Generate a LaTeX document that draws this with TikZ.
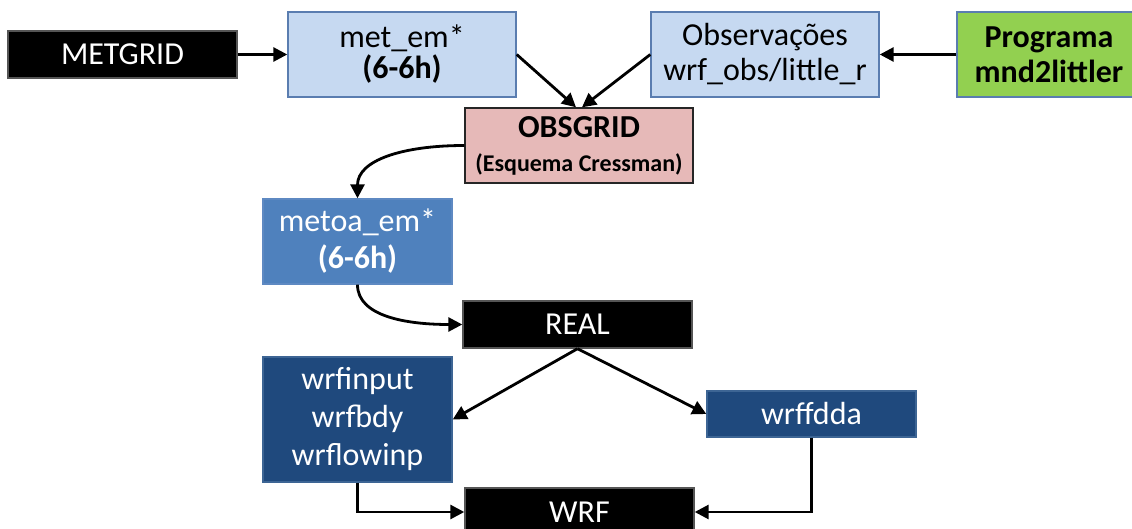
\documentclass[tikz,border=0pt]{standalone}
\usepackage{fontspec}
\setmainfont{Carlito}
\usetikzlibrary{arrows.meta,calc}

\definecolor{paleblue}{HTML}{C6D9F1}
\definecolor{paleedge}{HTML}{5A7DB0}
\definecolor{midblue}{HTML}{4F81BD}
\definecolor{midedge}{HTML}{5E89C2}
\definecolor{darkblue}{HTML}{1F497D}
\definecolor{darkedge}{HTML}{3D6594}
\definecolor{leaf}{HTML}{92D050}
\definecolor{rose}{HTML}{E6B9B8}
\definecolor{blackedge}{HTML}{555555}

\tikzset{
  box/.style={rectangle, inner sep=0pt, line width=1.4pt, align=center,
    font=\fontsize{32}{38}\selectfont},
  blackbox/.style={box, fill=black, draw=blackedge, text=white},
  palebox/.style={box, fill=paleblue, draw=paleedge, text=black},
  midbox/.style={box, fill=midblue, draw=midedge, text=white},
  darkbox/.style={box, fill=darkblue, draw=darkedge, text=white},
  greenbox/.style={box, fill=leaf, draw=paleedge, text=black},
  rosebox/.style={box, fill=rose, draw=black!85, text=black},
  flow/.style={line width=2.8pt, -{Triangle[length=14pt,width=14pt]}}
}

\begin{document}
\begin{tikzpicture}[x=1pt, y=-1pt]
\useasboundingbox (0,0) rectangle (1132,529);
\clip (0,0) rectangle (1132,529);

% top row
\node[blackbox, minimum width=229pt, minimum height=47pt] (metgrid) at (122.5,54.5) {METGRID};
\node[palebox, minimum width=228pt, minimum height=85pt, font=\fontsize{32}{31}\selectfont] (metem) at (402,54.5) {met\_em*\\\textbf{(6-6h)}};
\node[palebox, minimum width=228pt, minimum height=85pt, font=\fontsize{32}{35}\selectfont] (obs) at (765,54.5) {Observações\\wrf\_obs/little\_r};
\node[greenbox, minimum width=184pt, minimum height=85pt, font=\bfseries\fontsize{32}{35}\selectfont] (prog) at (1049,54.5) {Programa\\mnd2littler};

% objective analysis
\node[rosebox, minimum width=228pt, minimum height=75pt] (obsgrid) at (579,145.5)
  {\textbf{OBSGRID}\\[-4pt]{\bfseries\fontsize{24}{26}\selectfont (Esquema Cressman)}};
\node[midbox, minimum width=189pt, minimum height=85pt, font=\fontsize{32}{37}\selectfont] (metoa) at (357.5,241.5) {metoa\_em*\\\textbf{(6-6h)}};

% real / wrf
\node[blackbox, minimum width=229pt, minimum height=47pt] (real) at (577.5,324.5) {REAL};
\node[darkbox, minimum width=189pt, minimum height=125pt, font=\fontsize{32}{38}\selectfont] (wrfin) at (357.5,419.5) {wrfinput\\wrfbdy\\wrflowinp};
\node[darkbox, minimum width=209pt, minimum height=46pt] (wrffdda) at (811.5,414) {wrffdda};
\node[blackbox, minimum width=229pt, minimum height=48pt] (wrf) at (579.5,512) {WRF};

% connectors
\draw[flow] (metgrid.east) -- (metem.west);
\draw[flow] (prog.west) -- (obs.east);
\draw[flow] (metem.east) -- ($(obsgrid.north)+(-3,0)$);
\draw[flow] (obs.west) -- ($(obsgrid.north)+(3,0)$);
\draw[flow] (obsgrid.west) .. controls +(-62,0) and +(0,-38) .. (metoa.north);
\draw[flow] (metoa.south) .. controls +(0,32) and +(-55,0) .. (real.west);
\draw[flow] (real.south) -- (wrfin.east);
\draw[flow] (real.south) -- (wrffdda.west);
\draw[flow] (wrfin.south) |- (wrf.west);
\draw[flow] (wrffdda.south) |- (wrf.east);
\end{tikzpicture}
\end{document}
